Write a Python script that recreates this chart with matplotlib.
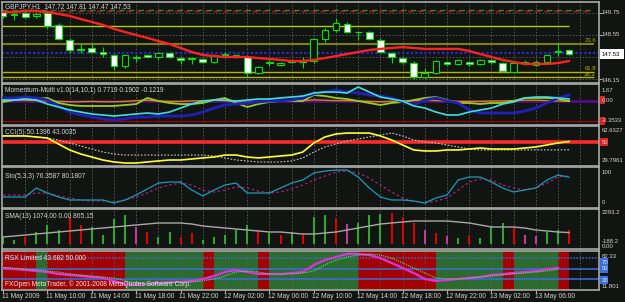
import matplotlib
matplotlib.use('Agg')
import matplotlib.pyplot as plt
from matplotlib.patches import Rectangle
import matplotlib.transforms as mtransforms

plt.rcParams['font.family'] = ['Liberation Sans', 'DejaVu Sans']

# ---------------- data ----------------
opens = [149.80,149.64,149.75,149.59,149.75,149.10,148.28,147.76,147.84,147.62,147.46,146.86,147.35,147.46,147.35,147.57,
         147.29,147.29,147.24,147.08,147.46,147.46,147.35,146.48,147.02,146.91,147.08,147.08,147.13,148.33,148.82,149.15,
         148.71,148.71,148.28,147.57,147.29,147.02,146.26,146.48,147.08,146.97,147.08,146.97,147.19,147.02,146.53,147.02,
         146.91,147.08,147.60,147.72]
highs = [149.91,149.80,149.86,149.80,149.86,149.20,148.39,148.11,148.11,147.89,147.51,147.51,147.46,147.51,147.62,147.62,
         147.35,147.35,147.29,147.51,147.62,147.51,147.46,146.86,147.19,147.08,147.19,147.35,148.39,148.93,149.48,149.26,
         148.77,148.77,148.39,147.62,147.35,147.13,146.75,147.19,147.13,147.24,147.13,147.24,147.24,147.08,147.08,147.19,
         147.19,147.51,148.06,147.81]
lows = [149.48,149.37,149.48,149.48,148.93,148.28,147.57,147.57,147.57,147.35,146.64,146.75,147.08,147.29,147.19,147.29,
        146.97,146.97,147.02,147.02,147.40,147.29,146.26,146.42,146.86,146.86,147.02,146.75,147.02,148.17,148.71,148.66,
        148.28,148.28,147.57,147.02,146.97,146.15,146.20,146.42,146.91,146.91,146.86,146.91,146.97,146.53,146.48,146.91,
        146.86,147.02,147.40,147.47]
closes = [149.59,149.70,149.53,149.70,149.04,148.33,147.73,147.73,147.62,147.51,146.86,147.46,147.29,147.35,147.57,147.35,
          147.19,147.24,147.08,147.46,147.51,147.35,146.48,146.80,147.08,147.02,147.13,147.13,148.33,148.82,149.20,148.71,
          148.73,148.33,147.62,147.35,147.08,146.26,146.48,147.13,146.97,147.19,146.97,147.19,147.08,146.59,147.02,147.08,
          147.08,147.46,147.65,147.53]
ma_line = [149.80,149.80,149.86,149.86,149.80,149.70,149.59,149.42,149.26,149.10,148.88,148.71,148.55,148.39,148.22,148.06,
           147.84,147.62,147.46,147.40,147.35,147.35,147.35,147.29,147.24,147.19,147.13,147.13,147.19,147.29,147.40,147.51,
           147.62,147.73,147.79,147.84,147.89,147.84,147.79,147.79,147.79,147.79,147.68,147.51,147.35,147.19,147.08,146.97,
           146.97,146.97,147.02,147.13]
price_levels = {'green_dash': 149.94, 'red_dash': 149.86, 'lime': 149.04, 'fib236': 148.06,
                'blue_dot': 147.57, 'fib618': 146.53, 'fib382': 146.26}
price_ticks = [149.75, 148.55, 147.35, 146.15]
last_price = 147.53

mom_cyan = [0.12,0.12,0.25,0.12,-0.38,-0.75,-1.12,-1.38,-1.62,-1.75,-1.88,-1.75,-1.62,-1.5,-1.62,-1.38,-0.88,-0.38,0,0.12,
            0.12,0,0.12,0.25,0.25,0.38,0.5,0.62,1.0,1.12,1.12,1.0,1.75,1.12,0.5,0.25,0,-0.62,-0.88,-1.38,-1.75,-1.75,-1.38,
            -1.12,-0.88,-0.38,-0.12,0.38,0.5,0.5,0.38,0.25]
mom_blue = [0.38,0.38,0.5,0.38,0.12,-0.62,-1.38,-1.75,-2.0,-2.25,-2.38,-2.25,-2.0,-2.0,-1.88,-1.88,-1.88,-1.75,-1.38,-0.88,
            -0.5,-0.38,-0.25,-0.12,0,0,0.12,0.38,0.88,1.12,1.38,1.12,1.0,0.75,0.62,0.38,-0.12,-0.5,0.12,0.38,0,-0.25,-1.12,
            -1.5,-1.5,-1.5,-1.5,-1.25,-0.88,-0.25,0.38,0.75]
mom_lime = [-0.12,0.12,0.38,0.25,0.38,-0.25,-0.5,-0.62,-0.62,-0.62,-0.62,-0.5,-0.38,0.38,0,-0.25,-0.38,-0.38,-0.25,0.12,
            0.38,-0.25,-0.75,-0.38,-0.12,0,0,0,0.75,0.62,0.38,0.25,0,-0.25,-0.5,-0.25,-0.12,0.12,0.38,0.5,0.12,-0.25,-0.25,
            -0.38,-0.25,-0.25,0,0.38,0.38,0.38,0.25,0]
mom_orange = [0.05,0.1,0.1,0.05,0,-0.05,-0.1,-0.1,-0.05,-0.1,-0.1,-0.05,0.05,0.1,0,-0.05,-0.05,0,0.05,0.1,0.05,-0.1,-0.15,
              -0.1,-0.05,0,0.05,0.05,0.15,0.1,0.05,0.05,0,-0.05,-0.1,-0.05,0,0.05,0.1,0.05,0,-0.05,-0.05,-0.05,0,0,0.05,0.1,
              0.1,0.05,0,-0.05]
mom_levels = [0.0, -2.5]

cci_main = [54.9,54.9,54.9,54.0,53.1,47.9,42.8,39.3,36.7,34.1,32.4,31.5,31.5,32.4,33.3,34.1,34.1,35.0,35.9,36.7,38.4,38.4,
            36.7,35.9,36.7,37.6,38.4,41.0,48.8,54.0,56.6,57.4,57.4,57.4,54.9,51.4,47.1,42.8,41.9,41.9,42.8,42.8,43.6,44.5,
            43.6,43.6,43.6,44.5,45.4,47.1,48.8,50.1]
cci_signal = [54.9,54.9,54.9,54.0,53.1,51.4,48.8,46.2,43.6,41.0,39.3,38.4,38.4,38.4,38.4,38.4,38.4,38.4,38.4,37.6,35.9,34.1,
              33.3,32.4,32.4,32.4,33.3,35.9,41.0,45.4,47.9,50.5,52.3,54.0,55.7,57.4,54.9,51.4,49.7,48.8,47.1,45.4,43.6,42.8,
              42.8,42.8,42.8,42.8,42.8,42.8,42.8,43.0]
cci_level = 50

sto_main = [25.8,25.8,25.8,48.8,36.0,25.8,18.1,18.1,18.1,18.1,10.4,18.1,30.9,46.2,61.6,64.2,64.2,43.7,28.3,43.7,56.5,61.6,
            36.0,36.0,36.0,48.8,61.6,69.3,87.2,92.3,94.9,94.9,77.0,48.8,25.8,18.1,18.1,15.5,10.4,23.2,30.9,69.3,77.0,77.0,
            64.2,48.8,38.6,43.7,48.8,69.3,82.1,76.4]
sto_signal = [30.9,30.9,30.9,36.0,36.0,28.3,23.2,18.1,15.5,15.5,13.0,18.1,25.8,36.0,48.8,56.5,61.6,56.5,43.7,38.6,43.7,51.4,
              48.8,41.1,36.0,38.6,46.2,56.5,69.3,79.5,89.8,92.3,87.2,74.4,56.5,38.6,23.2,15.5,10.4,15.5,23.2,43.7,64.2,71.8,
              69.3,56.5,48.8,43.7,48.8,61.6,77.0,80.2]

vol_values = [540,322,540,906,1417,1052,2001,1417,1271,687,1855,2147,1271,906,540,906,540,833,322,540,687,1052,1417,1052,
              833,687,906,833,2001,2147,1928,1490,1563,2147,2220,2293,2001,1563,1052,833,614,468,614,468,1271,1563,1198,687,
              614,906,1052,1074]
vol_kind = ['g','g','r','g','g','g','r','r','g','g','g','g','m','r','g','g','r','r','g','g','g','g','g','r','g','r','g','r',
            'g','g','r','m','g','g','g','r','r','r','m','r','m','g','r','g','g','g','r','m','m','g','g','r']
vol_sma = [541,614,687,760,833,906,979,1052,1125,1198,1271,1344,1417,1490,1563,1563,1563,1490,1344,1271,1198,1125,1052,979,
           906,906,833,760,760,833,906,1052,1198,1344,1490,1563,1636,1709,1709,1709,1709,1636,1563,1417,1271,1271,1271,1198,
           1052,979,906,865]

rsx_main = [51.8,49.9,48.0,46.1,44.2,40.4,38.5,36.6,34.7,32.8,27.1,21.3,19.4,21.3,23.2,25.2,25.2,27.1,30.9,36.6,44.2,48.0,
            44.2,40.4,40.4,40.4,42.3,44.2,57.6,67.1,72.8,78.5,78.5,76.6,70.9,61.4,51.8,42.3,30.9,27.1,28.9,30.9,32.8,34.7,
            38.5,40.4,42.3,44.2,46.1,49.9,51.8]
rsx_signal = [52.5,51.8,49.9,48.0,46.1,44.2,40.4,38.5,36.6,34.7,32.8,27.1,23.2,21.3,21.3,23.2,25.2,25.2,27.1,30.9,36.6,44.2,
              46.1,44.2,40.4,40.4,40.4,42.3,46.1,57.6,67.1,72.8,76.6,78.5,76.6,70.9,61.4,51.8,42.3,32.8,30.9,30.9,32.8,34.7,
              36.6,38.5,40.4,42.3,44.2,46.1,49.9]
rsx_zone = ['R','R','R','G','R','R','R','R','R','R','R','G','G','G','G','G','G','G','R','G','G','G','G','R','G','G','G','G',
            'G','G','G','G','R','R','R','R','R','R','R','G','G','G','G','G','G','R','G','G','G','G','R']
rsx_levels = [70, 50, 30]

time_labels = ['11 May 2009', '11 May 10:00', '11 May 14:00', '11 May 18:00', '11 May 22:00', '12 May 02:00',
               '12 May 06:00', '12 May 10:00', '12 May 14:00', '12 May 18:00', '12 May 22:00', '13 May 02:00',
               '13 May 06:00']
time_label_bars = [0, 4, 8, 12, 16, 20, 24, 28, 32, 36, 40, 44, 48]

# ---------------- figure ----------------
W, H = 625, 302
BG = '#111511'
TXT = '#d2d2d2'
GRID = '#5c5c5c'
FS = 4.8
FSR = 4.3

fig = plt.figure(figsize=(W / 100, H / 100), dpi=100, facecolor=BG)


def add_panel(top, bottom):
    ax = fig.add_axes([2 / W, 1 - bottom / H, 597 / W, (bottom - top) / H], facecolor=BG)
    ax.set_xlim(-0.09, 53.69)
    for s in ax.spines.values():
        s.set_color('#a8a8a8')
        s.set_linewidth(1.2)
    ax.tick_params(left=False, labelleft=False, bottom=False, labelbottom=False,
                   right=False, labelright=False)
    for k in range(2, 54, 2):
        ax.axvline(k, color=GRID, lw=0.6, ls=(0, (2, 2)), zorder=0.5)
    return ax


def ptext(x, y, s, **kw):
    kw.setdefault('fontsize', FS)
    kw.setdefault('color', TXT)
    kw.setdefault('va', 'center')
    fig.text(x / W, 1 - y / H, s, **kw)


def rtext(y, s, **kw):
    kw.setdefault('fontsize', FSR)
    ptext(602, y, s, **kw)


def fbox(x0, y0, w, h, color):
    fig.patches.append(Rectangle((x0 / W, 1 - (y0 + h) / H), w / W, h / H, transform=fig.transFigure,
                                 facecolor=color, edgecolor='none'))


n = len(closes)
xs = list(range(n))

# ---- main price panel ----
ax = add_panel(2, 83)
ax.set_ylim(145.93, 150.35)
for p in price_ticks:
    ax.axhline(p, color=GRID, lw=0.6, ls=(0, (2, 2)), zorder=0.5)
ax.hlines(price_levels['green_dash'], -0.1, 52.9, color='#2f8a2f', lw=1, ls=(0, (4, 3)), zorder=1)
ax.hlines(price_levels['red_dash'], -0.1, 52.9, color='#b01818', lw=1, ls=(2, (4, 3)), zorder=1)
ax.hlines(price_levels['lime'], -0.1, 51.0, color='#a8d000', lw=1.0, zorder=1)
ax.hlines(price_levels['fib236'], -0.1, 53.2, color='#8c8c00', lw=1.3, zorder=1)
ax.hlines(price_levels['blue_dot'], -0.1, 53.7, color='#2a2ad0', lw=1.6, ls=(0, (1, 1)), zorder=1)
ax.hlines(price_levels['fib618'], -0.1, 53.2, color='#b4b400', lw=1.0, zorder=1)
ax.hlines(price_levels['fib382'], -0.1, 53.2, color='#b4b400', lw=1.0, zorder=1)
ax.vlines(xs, lows, highs, color='#00dd00', lw=0.8, zorder=2)
for i in xs:
    o, c = opens[i], closes[i]
    lo, hi = min(o, c), max(o, c)
    h = max(hi - lo, 0.012)
    face = 'white' if c < o else BG
    ax.add_patch(Rectangle((i - 0.3, lo), 0.6, h, facecolor=face, edgecolor='#00dd00', lw=0.8, zorder=3))
ax.plot(xs, ma_line, color='#ff2222', lw=1.7, zorder=4, solid_capstyle='round')
ax.set_yticks(price_ticks)
ax.tick_params(right=True, length=2, color='#a8a8a8', width=0.8)
ptext(5, 7, 'GBPJPY,H1  147.72 147.81 147.47 147.53')
ptext(596, 41, '23.6', color='#a8a800', ha='right', fontsize=FSR)
ptext(596, 68, '61.8', color='#b4b400', ha='right', fontsize=FSR)
ptext(596, 74, '38.2', color='#b4b400', ha='right', fontsize=FSR)

# ---- momentum panel ----
am = add_panel(84, 125)
am.set_ylim(-3.0, 2.125)
am.axhline(mom_levels[0], color='#5a0a90', lw=1.8, zorder=1)
am.axhline(mom_levels[1], color='#b00000', lw=0.8, zorder=1)
am.plot(xs, mom_orange, color='#d08a00', lw=1.0, zorder=2)
am.plot(xs, mom_lime, color='#9ccc20', lw=1.3, zorder=3)
am.plot(xs, mom_blue, color='#2020b8', lw=2.0, zorder=4)
am.plot(xs, mom_cyan, color='#3fe0e0', lw=1.2, zorder=5)
ptext(5, 91, 'Momentum-Multi v1.0(14,10,1) 0.7719 0.1902 -0.1219')

# ---- CCI panel ----
ac = add_panel(126, 166)
ac.set_ylim(28.93, 63.49)
ac.axhline(cci_level, color='#ff2a2a', lw=2.6, zorder=1)
ac.plot(xs, cci_signal, color='#c8c8c8', lw=0.8, ls=(0, (1.5, 1.5)), zorder=2)
ac.plot(xs, cci_main, color='#ffff30', lw=1.2, zorder=3)
ptext(5, 133, 'CCI(5) 50.1396 43.0035')

# ---- Stochastic panel ----
ast = add_panel(167, 208)
ast.set_ylim(-2.4, 102.6)
ast.plot(xs, sto_signal, color='#b0207a', lw=0.9, ls=(0, (2, 2)), zorder=2)
ast.plot(xs, sto_main, color='#1a9bb8', lw=0.9, zorder=3)
ptext(5, 176, 'Sto(5,3,3) 76.3587 80.1807')

# ---- volume / SMA panel ----
av = add_panel(209, 249)
av.set_ylim(-335, 2585)
cmap = {'g': '#33a333', 'r': '#d80000', 'm': '#c43a9a'}
av.vlines(xs, 0, vol_values, colors=[cmap[k] for k in vol_kind], lw=1.5, zorder=2)
av.plot(xs, vol_sma, color='#a8a8a8', lw=1.0, zorder=3)
ptext(5, 216, 'SMA(13) 1074.00 0.00 865.15')

# ---- RSX panel ----
ar = add_panel(251, 290)
ar.set_ylim(9.9, 84.24)
zc = {'R': '#a30000', 'G': '#2d6a2d'}
for k, z in enumerate(rsx_zone):
    ar.axvspan(k if k > 0 else -0.09, k + 1, color=zc[z], lw=0, zorder=0.2)
ar.axhline(rsx_levels[0], color='#3a6ee0', lw=1.1, ls=(0, (1, 1)), zorder=1)
ar.axhline(rsx_levels[1], color='#3a6ee0', lw=1.1, zorder=1)
ar.axhline(rsx_levels[2], color='#3a6ee0', lw=1.1, zorder=1)
rx = list(range(len(rsx_main)))
ar.plot(rx, rsx_main, color='#e030e0', lw=1.6, zorder=3)
ar.plot(rx, rsx_signal, color='#50f050', lw=0.8, ls=(0, (1, 1)), zorder=4)
ar.set_xticks(time_label_bars)
ar.tick_params(bottom=True, length=2.5, color='#a8a8a8', width=0.8)
trans = mtransforms.blended_transform_factory(ar.transData, ar.transAxes)
for b, lab in zip(time_label_bars, time_labels):
    ar.text(b - 0.12, -0.16, lab, transform=trans, fontsize=FS, color=TXT, ha='left', va='center')
ptext(5, 258, 'RSX Limited 43.682 50.000', color='#e6e6e6')
ptext(5, 284, 'FXOpen MetaTrader, \u00a9 2001-2008 MetaQuotes Software Corp.', color='#e6e6e6')

# ---- right-side scale labels ----
rtext(13, '149.75')
rtext(35, '148.55')
rtext(80, '146.15')
fbox(600, 49, 24, 10, 'white')
rtext(54, '147.53', color='black')

rtext(90, '1.67')
fbox(600, 96, 5, 8, '#e02020')
rtext(100, '0.00')
fbox(600, 117, 5, 8, '#e02020')
rtext(121, '-3.3533')

rtext(131, '62.6327')
fbox(600, 138, 8, 8, '#e02020')
rtext(142, '50')
rtext(161, '29.7961')

rtext(172, '100')
rtext(203, '0')

rtext(213, '2293.2')
rtext(241.5, '-188.2')
rtext(247, '0.00')

rtext(256.5, '82.33')
for yy, lab in [(262, '70'), (269, '50'), (280, '30')]:
    fbox(600, yy - 4, 8, 8, '#3a6ee0')
    rtext(yy, lab, color='#dfe6ff')
rtext(287, '11.801')

fig.savefig('out.png', dpi=100, facecolor=BG)
